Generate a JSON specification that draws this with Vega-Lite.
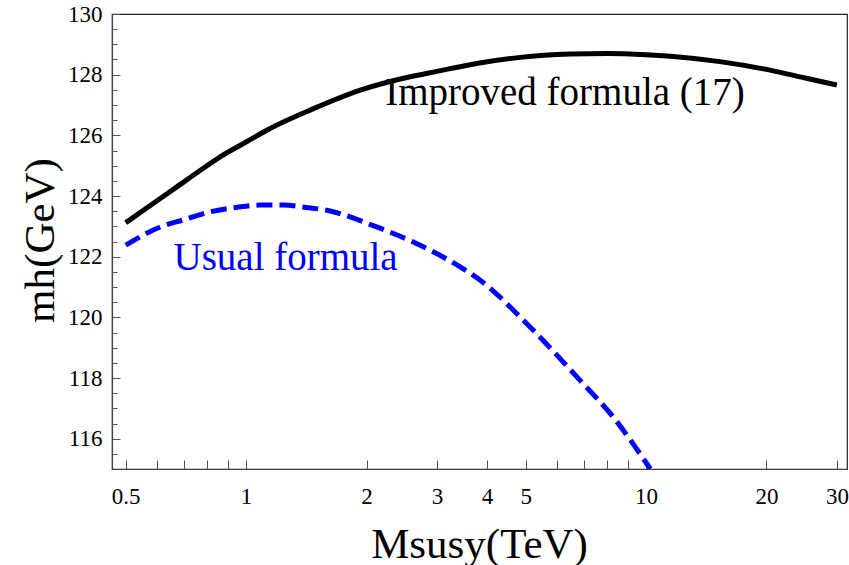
{
  "$schema": "https://vega.github.io/schema/vega-lite/v6.json",
  "width": 735,
  "height": 455,
  "autosize": {"type": "none"},
  "padding": {"left": 112, "top": 14, "right": 2, "bottom": 96},
  "background": "white",
  "config": {
    "view": {"stroke": "#222", "strokeWidth": 1.2},
    "font": "Liberation Serif",
    "axis": {
      "grid": false,
      "labelFont": "Liberation Serif",
      "titleFont": "Liberation Serif",
      "labelColor": "#000",
      "titleColor": "#000",
      "titleFontWeight": "normal",
      "domainColor": "#444",
      "tickColor": "#555",
      "domainWidth": 1.2,
      "tickWidth": 1
    }
  },
  "datasets": {
    "improved": [
      {"M": 0.5, "mh": 123.12},
      {"M": 0.6, "mh": 123.85},
      {"M": 0.671, "mh": 124.3},
      {"M": 0.767, "mh": 124.84},
      {"M": 0.861, "mh": 125.29},
      {"M": 1.0, "mh": 125.78},
      {"M": 1.127, "mh": 126.17},
      {"M": 1.445, "mh": 126.83},
      {"M": 1.93, "mh": 127.49},
      {"M": 2.57, "mh": 127.93},
      {"M": 3.0, "mh": 128.11},
      {"M": 3.77, "mh": 128.37},
      {"M": 4.84, "mh": 128.57},
      {"M": 6.46, "mh": 128.68},
      {"M": 8.0, "mh": 128.7},
      {"M": 10.0, "mh": 128.66},
      {"M": 11.5, "mh": 128.61},
      {"M": 15.3, "mh": 128.43},
      {"M": 20.4, "mh": 128.15},
      {"M": 25.0, "mh": 127.89},
      {"M": 30.0, "mh": 127.66}
    ],
    "usual": [
      {"M": 0.5, "mh": 122.38},
      {"M": 0.61, "mh": 122.98},
      {"M": 0.7, "mh": 123.22},
      {"M": 0.813, "mh": 123.48},
      {"M": 0.95, "mh": 123.63},
      {"M": 1.08, "mh": 123.7},
      {"M": 1.24, "mh": 123.7},
      {"M": 1.4, "mh": 123.63},
      {"M": 1.59, "mh": 123.53},
      {"M": 2.12, "mh": 122.98},
      {"M": 2.61, "mh": 122.49},
      {"M": 3.43, "mh": 121.66},
      {"M": 3.85, "mh": 121.22},
      {"M": 5.13, "mh": 119.68},
      {"M": 6.84, "mh": 117.92},
      {"M": 8.28, "mh": 116.71},
      {"M": 10.25, "mh": 115.0}
    ],
    "labels": [
      {"M": 6.27, "mh": 127.0, "text": "Improved formula (17)", "series": "improved"},
      {"M": 1.255, "mh": 121.55, "text": "Usual formula", "series": "usual"}
    ]
  },
  "resolve": {"axis": {"x": "independent", "y": "independent"}},
  "layer": [
    {
      "data": {"name": "improved"},
      "mark": {"type": "line", "color": "#000", "strokeWidth": 5, "interpolate": "monotone", "clip": true},
      "encoding": {
        "x": {
          "field": "M", "type": "quantitative",
          "scale": {"type": "log", "domain": [0.462, 31.8], "nice": false},
          "axis": {
            "orient": "bottom",
            "title": "Msusy(TeV)",
            "titleFontSize": 43,
            "titleBaseline": "alphabetic",
            "titleX": 367,
            "titleY": 88,
            "values": [0.5, 0.6, 0.7, 0.8, 0.9, 1, 2, 3, 4, 5, 6, 7, 8, 9, 10, 20, 30],
            "format": "~g",
            "labelExpr": "indexof([0.5, 1, 2, 3, 4, 5, 10, 20, 30], datum.value) >= 0 ? datum.label : ''",
            "labelFontSize": 23,
            "tickSize": -9,
            "labelPadding": 25,
            "labelFlush": false,
            "labelOverlap": false
          }
        },
        "y": {
          "field": "mh", "type": "quantitative",
          "scale": {"domain": [115, 130], "nice": false, "zero": false},
          "axis": {
            "orient": "left",
            "title": "mh(GeV)",
            "titleFontSize": 43,
            "titleBaseline": "alphabetic",
            "titleAngle": 270,
            "titleX": -59,
            "titleY": 226,
            "values": [116, 118, 120, 122, 124, 126, 128, 130],
            "labelFontSize": 23,
            "tickSize": -8,
            "labelPadding": 18,
            "labelFlush": false,
            "labelOverlap": false
          }
        }
      }
    },
    {
      "data": {"name": "usual"},
      "mark": {"type": "line", "color": "#0000ff", "strokeWidth": 5, "strokeDash": [16, 7], "interpolate": "monotone", "clip": true},
      "encoding": {
        "x": {
          "field": "M", "type": "quantitative",
          "scale": {"type": "log", "domain": [0.462, 31.8], "nice": false},
          "axis": null
        },
        "y": {
          "field": "mh", "type": "quantitative",
          "scale": {"domain": [115, 130], "nice": false, "zero": false},
          "axis": {
            "orient": "left",
            "title": null,
            "domain": false,
            "labels": false,
            "values": [115.5, 116.5, 117, 117.5, 118.5, 119, 119.5, 120.5, 121, 121.5, 122.5, 123, 123.5, 124.5, 125, 125.5, 126.5, 127, 127.5, 128.5, 129, 129.5],
            "tickSize": -5
          }
        }
      }
    },
    {
      "data": {"name": "labels"},
      "mark": {"type": "text", "align": "center", "baseline": "alphabetic", "font": "Liberation Serif", "fontSize": 39},
      "encoding": {
        "x": {"field": "M", "type": "quantitative", "scale": {"type": "log", "domain": [0.462, 31.8], "nice": false}, "axis": null},
        "y": {"field": "mh", "type": "quantitative", "scale": {"domain": [115, 130], "nice": false, "zero": false}, "axis": null},
        "text": {"field": "text", "type": "nominal"},
        "color": {
          "field": "series", "type": "nominal",
          "scale": {"domain": ["improved", "usual"], "range": ["#000000", "#0000ff"]},
          "legend": null
        }
      }
    }
  ]
}
